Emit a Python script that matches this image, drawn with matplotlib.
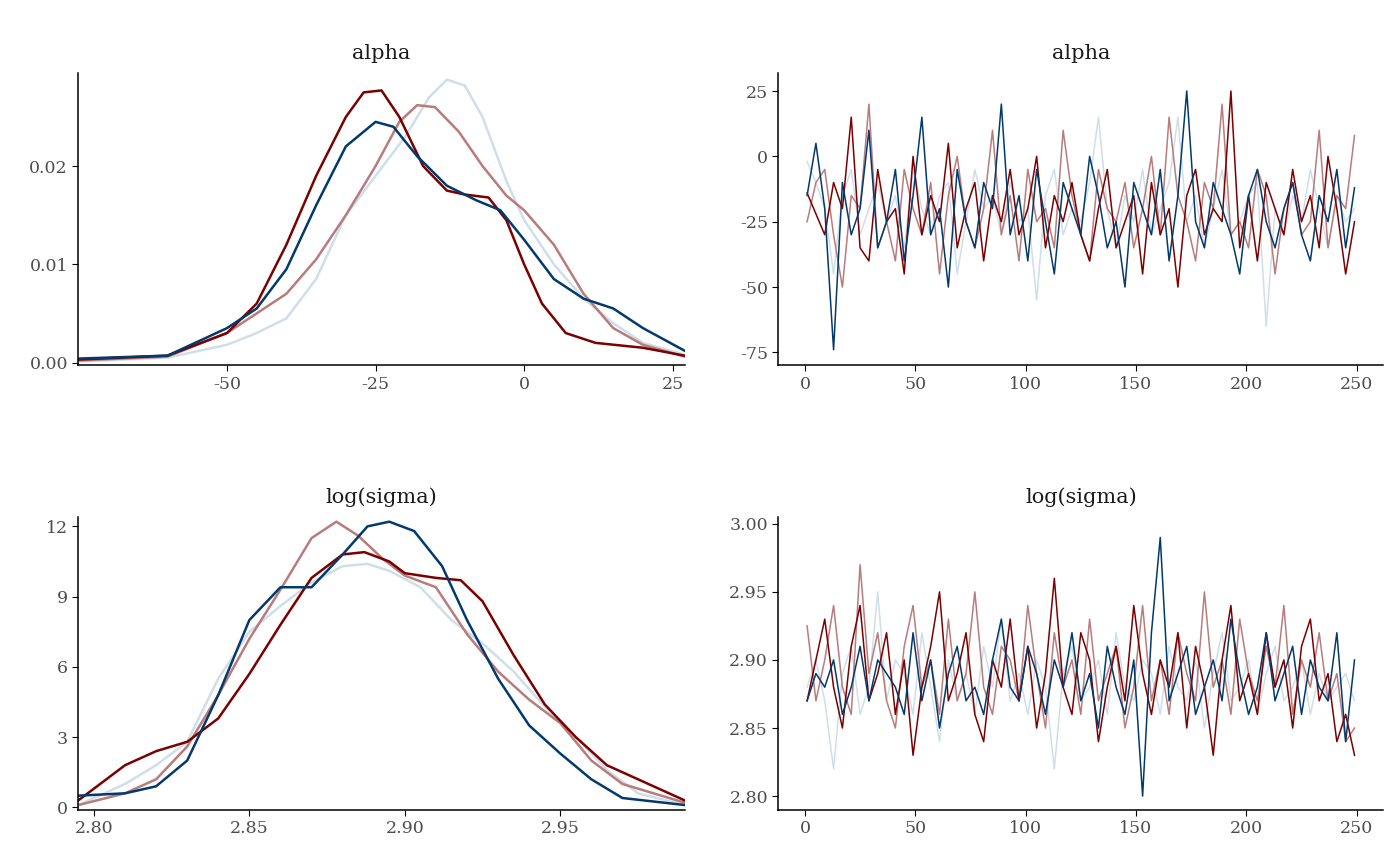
import numpy as np
import matplotlib.pyplot as plt

plt.rcParams['font.family'] = ['DejaVu Serif']
plt.rcParams['axes.unicode_minus'] = False

colors = {'c1': '#7b0000', 'c2': '#b97c7c', 'c3': '#cfdfea', 'c4': '#03396c'}

# ---- density knots ----
alpha_x = {
    'c1': [-75, -60, -50, -45, -40, -35, -30, -27, -24, -21, -17, -13, -10, -6, -3, 0, 3, 7, 12, 20, 27],
    'c4': [-75, -60, -50, -45, -40, -35, -30, -25, -22, -18, -13, -8, -4, 0, 5, 10, 15, 20, 27],
    'c2': [-75, -60, -50, -45, -40, -35, -30, -25, -21, -18, -15, -11, -7, -3, 0, 5, 10, 15, 20, 27],
    'c3': [-75, -60, -50, -45, -40, -35, -30, -25, -20, -16, -13, -10, -7, -3, 0, 5, 10, 15, 20, 27],
}
alpha_d = {
    'c1': [0.0003, 0.0007, 0.003, 0.006, 0.012, 0.019, 0.025, 0.0275, 0.0277, 0.025, 0.02, 0.0175, 0.0171, 0.0168, 0.0145, 0.010, 0.006, 0.003, 0.002, 0.0015, 0.0007],
    'c4': [0.0004, 0.0007, 0.0035, 0.0055, 0.0095, 0.016, 0.022, 0.0245, 0.024, 0.021, 0.018, 0.0165, 0.0155, 0.0125, 0.0085, 0.0065, 0.0055, 0.0035, 0.0012],
    'c2': [0.0002, 0.0006, 0.003, 0.005, 0.007, 0.0105, 0.015, 0.020, 0.0245, 0.0262, 0.026, 0.0235, 0.020, 0.017, 0.0155, 0.012, 0.007, 0.0035, 0.0018, 0.0006],
    'c3': [0.0001, 0.0005, 0.0018, 0.003, 0.0045, 0.0085, 0.015, 0.019, 0.023, 0.027, 0.0288, 0.0282, 0.025, 0.0185, 0.0145, 0.010, 0.0065, 0.004, 0.002, 0.0008],
}
sig_x = {
    'c1': [2.795, 2.81, 2.82, 2.83, 2.84, 2.85, 2.86, 2.87, 2.88, 2.887, 2.895, 2.90, 2.91, 2.918, 2.925, 2.935, 2.945, 2.955, 2.965, 2.975, 2.99],
    'c4': [2.795, 2.81, 2.82, 2.83, 2.84, 2.85, 2.86, 2.87, 2.88, 2.888, 2.895, 2.903, 2.912, 2.92, 2.93, 2.94, 2.95, 2.96, 2.97, 2.99],
    'c2': [2.795, 2.81, 2.82, 2.83, 2.84, 2.85, 2.86, 2.87, 2.878, 2.885, 2.893, 2.90, 2.91, 2.92, 2.93, 2.94, 2.95, 2.96, 2.97, 2.99],
    'c3': [2.795, 2.81, 2.82, 2.83, 2.84, 2.85, 2.86, 2.87, 2.88, 2.888, 2.895, 2.905, 2.915, 2.925, 2.935, 2.945, 2.955, 2.965, 2.975, 2.99],
}
sig_d = {
    'c1': [0.3, 1.8, 2.4, 2.8, 3.8, 5.7, 7.8, 9.8, 10.8, 10.9, 10.5, 10.0, 9.8, 9.7, 8.8, 6.5, 4.4, 3.0, 1.8, 1.2, 0.3],
    'c4': [0.5, 0.6, 0.9, 2.0, 4.8, 8.0, 9.4, 9.4, 10.8, 12.0, 12.2, 11.8, 10.3, 8.0, 5.5, 3.5, 2.3, 1.2, 0.4, 0.1],
    'c2': [0.1, 0.6, 1.2, 2.6, 4.8, 7.2, 9.3, 11.5, 12.2, 11.6, 10.6, 9.9, 9.4, 7.4, 5.8, 4.6, 3.6, 2.0, 1.0, 0.2],
    'c3': [0.1, 1.0, 1.8, 2.8, 5.5, 7.5, 8.6, 9.6, 10.3, 10.4, 10.1, 9.4, 8.0, 7.0, 5.8, 4.3, 3.0, 1.6, 0.6, 0.1],
}

# ---- traces (every 4th iteration, estimated) ----
iters = list(range(1, 251, 4))
alpha_tr = {
    'c1': [-14, -22, -30, -10, -20, 15, -35, -40, -5, -25, -20, -45, 0, -30, -15, -25, 5, -35, -20, -10, -40, -15, -25, -5, -30, -20, 0, -35, -15, -25, -10, -30, -40, -20, -5, -35, -25, -15, -45, -10, -30, -20, -50, -15, -5, -30, -20, -25, 25, -35, -15, -40, -10, -20, -30, -5, -25, -15, -35, 0, -20, -45, -25],
    'c4': [-15, 5, -20, -74, -10, -30, -20, 10, -35, -25, -5, -40, -15, 15, -30, -20, -50, -5, -25, -35, -10, -20, 20, -30, -15, -40, -5, -25, -45, -10, -20, -30, 0, -15, -35, -25, -50, -10, -20, -30, -5, -40, -15, 25, -25, -35, -10, -20, -30, -45, -15, -5, -25, -35, -20, -10, -30, -40, -15, -25, -5, -35, -12],
    'c2': [-25, -10, -5, -30, -50, -15, -20, 20, -35, -25, -40, -5, -20, -30, -10, -45, -15, 0, -25, -35, -20, 10, -30, -15, -40, -5, -25, -20, -35, 10, -15, -30, -40, -5, -20, -25, -10, -35, -20, 0, -30, 15, -15, -25, -40, -10, -20, 20, -30, -25, -35, -5, -15, -45, -20, -10, -30, -25, 10, -35, -15, -20, 8],
    'c3': [-2, -10, -20, -45, -15, -5, -30, -20, -10, -25, -15, -35, -5, -20, -30, -15, -10, -45, -25, -5, -20, -15, -30, -10, -25, -20, -55, -15, -5, -30, -20, -25, -10, 15, -20, -35, -15, -25, -5, -30, -20, -10, 15, -25, -15, -35, -20, -5, -30, -25, -15, -10, -65, -20, -30, -15, -25, -5, -20, -35, -15, -25, -20],
}
sig_tr = {
    'c1': [2.870, 2.900, 2.930, 2.880, 2.850, 2.910, 2.940, 2.870, 2.890, 2.920, 2.860, 2.900, 2.830, 2.880, 2.910, 2.950, 2.870, 2.890, 2.920, 2.860, 2.840, 2.900, 2.880, 2.930, 2.870, 2.910, 2.850, 2.890, 2.960, 2.880, 2.860, 2.920, 2.900, 2.840, 2.880, 2.910, 2.870, 2.940, 2.890, 2.860, 2.900, 2.880, 2.920, 2.850, 2.910, 2.880, 2.830, 2.900, 2.940, 2.870, 2.890, 2.860, 2.920, 2.880, 2.900, 2.850, 2.910, 2.930, 2.870, 2.890, 2.840, 2.860, 2.830],
    'c4': [2.870, 2.890, 2.880, 2.900, 2.860, 2.880, 2.910, 2.870, 2.900, 2.890, 2.880, 2.860, 2.920, 2.870, 2.900, 2.850, 2.890, 2.910, 2.870, 2.880, 2.860, 2.900, 2.930, 2.880, 2.870, 2.910, 2.890, 2.860, 2.900, 2.880, 2.920, 2.870, 2.890, 2.850, 2.910, 2.880, 2.860, 2.900, 2.800, 2.920, 2.990, 2.870, 2.890, 2.910, 2.860, 2.880, 2.900, 2.870, 2.930, 2.890, 2.860, 2.880, 2.920, 2.870, 2.890, 2.910, 2.860, 2.900, 2.880, 2.870, 2.920, 2.840, 2.900],
    'c2': [2.925, 2.870, 2.900, 2.940, 2.880, 2.860, 2.970, 2.890, 2.920, 2.870, 2.850, 2.910, 2.940, 2.880, 2.900, 2.860, 2.930, 2.870, 2.890, 2.950, 2.880, 2.860, 2.910, 2.900, 2.870, 2.940, 2.890, 2.850, 2.920, 2.880, 2.900, 2.860, 2.930, 2.870, 2.890, 2.910, 2.850, 2.880, 2.940, 2.870, 2.900, 2.860, 2.920, 2.890, 2.870, 2.950, 2.880, 2.900, 2.860, 2.930, 2.890, 2.870, 2.910, 2.880, 2.940, 2.860, 2.900, 2.880, 2.920, 2.870, 2.890, 2.840, 2.850],
    'c3': [2.880, 2.900, 2.870, 2.820, 2.890, 2.910, 2.860, 2.880, 2.950, 2.870, 2.900, 2.890, 2.860, 2.920, 2.880, 2.840, 2.900, 2.870, 2.890, 2.860, 2.910, 2.880, 2.930, 2.870, 2.890, 2.860, 2.900, 2.880, 2.820, 2.890, 2.910, 2.870, 2.880, 2.900, 2.860, 2.920, 2.880, 2.870, 2.900, 2.890, 2.860, 2.910, 2.880, 2.870, 2.900, 2.850, 2.890, 2.920, 2.870, 2.880, 2.900, 2.860, 2.890, 2.910, 2.870, 2.880, 2.900, 2.860, 2.890, 2.870, 2.880, 2.890, 2.870],
}

order = ['c3', 'c2', 'c1', 'c4']

fig = plt.figure(figsize=(14, 8.66), dpi=100)
ax1 = fig.add_axes([0.056, 0.578, 0.433, 0.338])
ax2 = fig.add_axes([0.556, 0.578, 0.432, 0.338])
ax3 = fig.add_axes([0.056, 0.065, 0.433, 0.338])
ax4 = fig.add_axes([0.556, 0.065, 0.432, 0.338])

for c in order:
    ax1.plot(alpha_x[c], alpha_d[c], color=colors[c], lw=1.8)
    ax3.plot(sig_x[c], sig_d[c], color=colors[c], lw=1.8)
    ax2.plot(iters, alpha_tr[c], color=colors[c], lw=1.1)
    ax4.plot(iters, sig_tr[c], color=colors[c], lw=1.1)

ax1.set_xlim(-75, 27); ax1.set_ylim(-0.0003, 0.0295)
ax1.set_xticks([-50, -25, 0, 25]); ax1.set_yticks([0, 0.01, 0.02])
ax1.set_yticklabels(['0.00', '0.01', '0.02'])
ax3.set_xlim(2.795, 2.99); ax3.set_ylim(-0.1, 12.4)
ax3.set_xticks([2.80, 2.85, 2.90, 2.95]); ax3.set_yticks([0, 3, 6, 9, 12])
ax3.set_xticklabels(['2.80', '2.85', '2.90', '2.95'])
ax2.set_xlim(-12, 262); ax2.set_ylim(-80, 32)
ax2.set_xticks([0, 50, 100, 150, 200, 250]); ax2.set_yticks([-75, -50, -25, 0, 25])
ax4.set_xlim(-12, 262); ax4.set_ylim(2.79, 3.005)
ax4.set_xticks([0, 50, 100, 150, 200, 250]); ax4.set_yticks([2.80, 2.85, 2.90, 2.95, 3.00])
ax4.set_yticklabels(['2.80', '2.85', '2.90', '2.95', '3.00'])

for ax, t in [(ax1, 'alpha'), (ax2, 'alpha'), (ax3, 'log(sigma)'), (ax4, 'log(sigma)')]:
    ax.set_title(t, fontsize=15, color='#1a1a1a', pad=10)
    for s in ['top', 'right']:
        ax.spines[s].set_visible(False)
    ax.spines['left'].set_linewidth(1.1)
    ax.spines['bottom'].set_linewidth(1.1)
    ax.tick_params(labelsize=12.5, labelcolor='#4d4d4d', length=4)

fig.savefig('out.png', dpi=100)
